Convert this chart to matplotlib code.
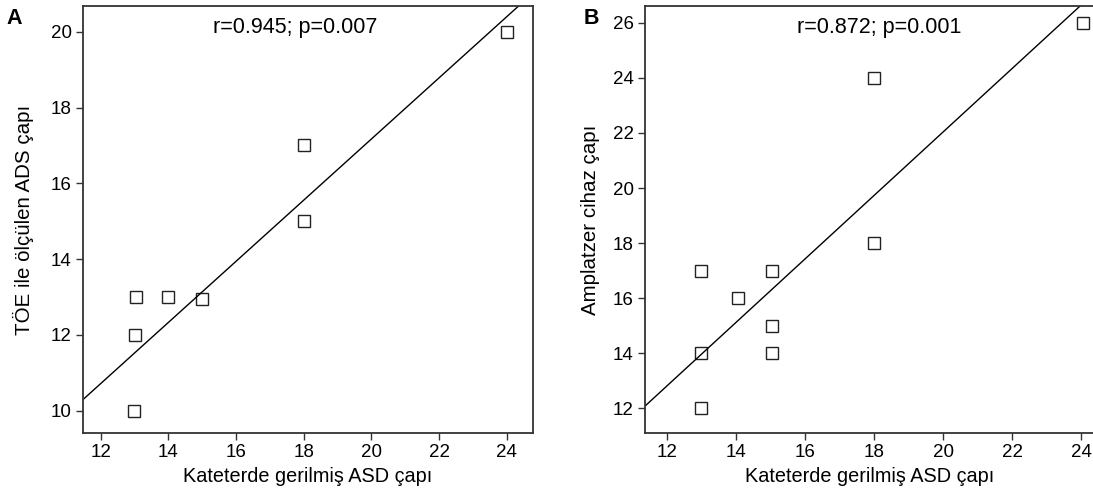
import matplotlib
matplotlib.use("Agg")
import matplotlib.pyplot as plt
import numpy as np

plt.rcParams['font.family'] = ['Liberation Sans', 'DejaVu Sans']

# panel A: catheter-stretched ASD vs TEE ASD
a_x = [12.98, 13.0, 13.04, 13.98, 14.99, 18.0, 18.0, 24.0]
a_y = [10.0, 12.0, 13.0, 13.0, 12.95, 15.0, 17.0, 20.0]
a_fit = (0.807, 1.03)   # slope, intercept as drawn
a_text = "r=0.945; p=0.007"

# panel B: catheter-stretched ASD vs Amplatzer device
b_x = [13.0, 13.0, 13.0, 14.06, 15.05, 15.05, 15.05, 18.0, 18.0, 24.03]
b_y = [17.0, 14.0, 12.0, 16.0, 17.0, 15.0, 14.0, 24.0, 18.0, 26.0]
b_fit = (1.154, -1.04)
b_text = "r=0.872; p=0.001"

xticks = [12, 14, 16, 18, 20, 22, 24]
a_yticks = [10, 12, 14, 16, 18, 20]
b_yticks = [12, 14, 16, 18, 20, 22, 24, 26]

fig = plt.figure(figsize=(10.93, 4.97), dpi=100)
axA = fig.add_axes([0.0757, 0.128, 0.412, 0.8605])
axB = fig.add_axes([0.5898, 0.128, 0.412, 0.8605])


def panel(ax, xs, ys, fit, txt, yticks, xlim, ylim, ylabel, letter, tx, lp):
    ax.plot(xs, ys, linestyle='none', marker='s', markersize=8.5,
            markerfacecolor='white', markeredgecolor='#222222', markeredgewidth=1.0)
    lx = np.array(xlim)
    ax.plot(lx, fit[0] * lx + fit[1], color='black', lw=1.0)
    ax.set_xlim(*xlim)
    ax.set_ylim(*ylim)
    ax.set_xticks(xticks)
    ax.set_yticks(yticks)
    ax.tick_params(direction='out', length=5, width=1, color='#333333',
                   labelsize=13.5, pad=3)
    for s in ax.spines.values():
        s.set_color('#333333')
        s.set_linewidth(1.3)
    ax.set_xlabel("Kateterde gerilmiş ASD çapı", fontsize=14.3, labelpad=4)
    ax.set_ylabel(ylabel, fontsize=14.8, labelpad=lp)
    ax.text(tx, 0.948, txt, transform=ax.transAxes, ha='center', va='center',
            fontsize=15.5)
    ax.text(-0.17, 0.97, letter, transform=ax.transAxes, ha='left', va='center',
            fontsize=15.5, fontweight='bold')


panel(axA, a_x, a_y, a_fit, a_text, a_yticks, (11.47, 24.78), (9.40, 20.69),
      "TÖE ile ölçülen ADS çapı", "A", 0.471, 12)
panel(axB, b_x, b_y, b_fit, b_text, b_yticks, (11.36, 24.39), (11.09, 26.62),
      "Amplatzer cihaz çapı", "B", 0.521, 9)
axB.texts[-1].set_x(-0.135)

fig.savefig("out.png", dpi=100)
